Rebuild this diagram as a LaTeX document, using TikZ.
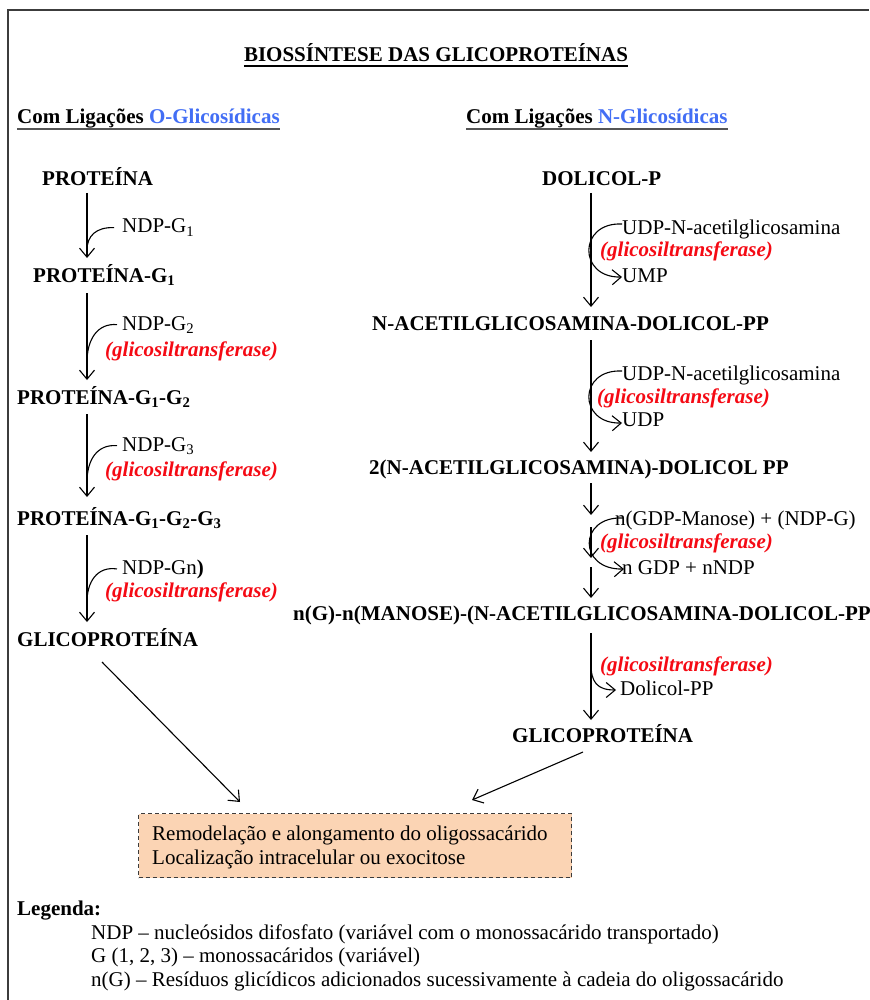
\documentclass[tikz,border=0pt]{standalone}
\usepackage{fontspec}
\setmainfont{Liberation Serif}
\usetikzlibrary{arrows.meta}

\definecolor{oblue}{RGB}{66,110,245}
\definecolor{ered}{RGB}{245,10,20}
\definecolor{peach}{HTML}{FBD4B4}
\definecolor{framegray}{RGB}{60,60,60}
\definecolor{rulegray}{RGB}{85,85,85}

\tikzset{
  txt/.style={inner sep=0pt, anchor=base west, font=\fontsize{21}{25}\selectfont},
  stage/.style={txt, font=\fontsize{21}{25}\selectfont\bfseries},
  enz/.style={txt, text=ered, font=\fontsize{21}{25}\selectfont\bfseries\itshape},
  flow/.style={line width=1.1pt, -{Straight Barb[length=9pt,width=15pt]}},
  feed/.style={line width=1.1pt},
  dashbox/.style={draw=framegray, line width=1.2pt, dash pattern=on 4pt off 3pt,
    fill=peach, inner sep=0pt, anchor=north west},
}

\begin{document}
\begin{tikzpicture}[x=1pt,y=-1pt]
\clip (0,0) rectangle (869,1000);
\fill[white] (0,0) rectangle (869,1000);

% page frame
\draw[framegray, line width=1.5pt] (8,1000) -- (8,10) -- (869,10);

% headings
\node[stage, anchor=base] (title) at (436,62) {BIOSSÍNTESE DAS GLICOPROTEÍNAS};
\draw[line width=1.6pt] ([yshift=-4pt]title.base west) -- ([yshift=-4pt]title.base east);
\node[stage] (subO) at (17,124) {Com Ligações \textcolor{oblue}{O-Glicosídicas}};
\node[stage] (subN) at (466,124) {Com Ligações \textcolor{oblue}{N-Glicosídicas}};
\draw[rulegray, line width=2pt] ([yshift=-5pt]subO.base west) -- ([yshift=-5pt]subO.base east);
\draw[rulegray, line width=2pt] ([yshift=-5pt]subN.base west) -- ([yshift=-5pt]subN.base east);

% ---------- O-glycosidic pathway ----------
\node[stage] (p0) at (42,186) {PROTEÍNA};
\node[stage] (p1) at (33,282) {PROTEÍNA-G\textsubscript{1}};
\node[stage] (p2) at (17,404) {PROTEÍNA-G\textsubscript{1}-G\textsubscript{2}};
\node[stage] (p3) at (17,525) {PROTEÍNA-G\textsubscript{1}-G\textsubscript{2}-G\textsubscript{3}};
\node[stage] (p4) at (17,646) {GLICOPROTEÍNA};

\node[txt] (d1) at (122,233) {NDP-G\textsubscript{1}};
\node[txt] (d2) at (122,330) {NDP-G\textsubscript{2}};
\node[enz] (e2) at (105,356) {(glicosiltransferase)};
\node[txt] (d3) at (122,451) {NDP-G\textsubscript{3}};
\node[enz] (e3) at (105,476) {(glicosiltransferase)};
\node[txt] (d4) at (122,574) {NDP-Gn\textbf{)}};
\node[enz] (e4) at (105,597) {(glicosiltransferase)};

\coordinate (a1s) at (87,193); \coordinate (a1e) at (87,258);
\coordinate (a2s) at (87,293); \coordinate (a2e) at (87,380);
\coordinate (a3s) at (87,414); \coordinate (a3e) at (87,497);
\coordinate (a4s) at (87,535); \coordinate (a4e) at (87,622);
\draw[flow] (a1s) -- (a1e);
\draw[flow] (a2s) -- (a2e);
\draw[flow] (a3s) -- (a3e);
\draw[flow] (a4s) -- (a4e);

\coordinate (j1) at (87,250);
\coordinate (j2) at (87,362);
\coordinate (j3) at (87,482);
\coordinate (j4) at (87,602);
\draw[feed] ([xshift=-8pt]d1.west) .. controls (96,227) and (87,236) .. (j1);
\draw[feed] ([xshift=-5pt]d2.west) .. controls (97,323) and (87,340) .. (j2);
\draw[feed] ([xshift=-5pt]d3.west) .. controls (97,444) and (87,460) .. (j3);
\draw[feed] ([xshift=-5pt]d4.west) .. controls (97,566) and (87,582) .. (j4);

% ---------- N-glycosidic pathway ----------
\node[stage] (r0) at (542,186) {DOLICOL-P};
\node[stage] (r1) at (372,330) {N-ACETILGLICOSAMINA-DOLICOL-PP};
\node[stage] (r2) at (369,474) {2(N-ACETILGLICOSAMINA)-DOLICOL PP};
\node[stage] (r3) at (293,620) {n(G)-n(MANOSE)-(N-ACETILGLICOSAMINA-DOLICOL-PP};
\node[stage] (r4) at (512,742) {GLICOPROTEÍNA};

\node[txt] (u1) at (622,234) {UDP-N-acetilglicosamina};
\node[enz] (e5) at (600,256) {(glicosiltransferase)};
\node[txt] (u2) at (622,282) {UMP};
\node[txt] (u3) at (622,380) {UDP-N-acetilglicosamina};
\node[enz] (e6) at (597,403) {(glicosiltransferase)};
\node[txt] (u4) at (622,426) {UDP};
\node[txt] (u5) at (615,525) {n(GDP-Manose) + (NDP-G)};
\node[enz] (e7) at (600,548) {(glicosiltransferase)};
\node[txt] (u6) at (622,574) {n GDP + nNDP};
\node[enz] (e8) at (600,671) {(glicosiltransferase)};
\node[txt] (u7) at (620,695) {Dolicol-PP};

\coordinate (b1s) at (591,193); \coordinate (b1e) at (591,307);
\coordinate (b2s) at (591,340); \coordinate (b2e) at (591,452);
\coordinate (b3s) at (591,483); \coordinate (b3e) at (591,515);
\coordinate (b4s) at (591,527); \coordinate (b4e) at (591,558);
\coordinate (b5s) at (591,567); \coordinate (b5e) at (591,598);
\coordinate (b6s) at (591,633); \coordinate (b6e) at (591,720);
\draw[flow] (b1s) -- (b1e);
\draw[flow] (b2s) -- (b2e);
\draw[flow] (b3s) -- (b3e);
\draw[flow] (b4s) -- (b4e);
\draw[flow] (b5s) -- (b5e);
\draw[flow] (b6s) -- (b6e);

% donor in, product out
\coordinate (k1a) at (622,224); \coordinate (k1b) at (622,277);
\coordinate (k2a) at (622,371); \coordinate (k2b) at (622,423);
\coordinate (k3a) at (623,518); \coordinate (k3b) at (624,569);
\draw[flow] (k1a) .. controls (578,222) and (578,278) .. (k1b);
\draw[flow] (k2a) .. controls (578,369) and (578,424) .. (k2b);
\draw[flow] (k3a) .. controls (578,516) and (578,570) .. (k3b);
\coordinate (k4a) at (591,664); \coordinate (k4b) at (616,690);
\draw[flow] (k4a) .. controls (591,682) and (597,690) .. (k4b);

% ---------- common fate ----------
\node[dashbox, minimum width=433pt, minimum height=64pt] (box) at (138,813) {};
\node[txt] (bt1) at (152,840) {Remodelação e alongamento do oligossacárido};
\node[txt] (bt2) at (152,864) {Localização intracelular ou exocitose};

\coordinate (t1) at (102,662); \coordinate (h1) at (240,802);
\coordinate (t2) at (583,752); \coordinate (h2) at (472,800);
\draw[flow] (t1) -- (h1);
\draw[flow] (t2) -- (h2);

% ---------- legend ----------
\node[stage] (leg) at (17,915) {Legenda:};
\node[txt] (l1) at (91,939) {NDP – nucleósidos difosfato (variável com o monossacárido transportado)};
\node[txt] (l2) at (91,962) {G (1, 2, 3) – monossacáridos (variável)};
\node[txt] (l3) at (91,986) {n(G) – Resíduos glicídicos adicionados sucessivamente à cadeia do oligossacárido};
\end{tikzpicture}
\end{document}
